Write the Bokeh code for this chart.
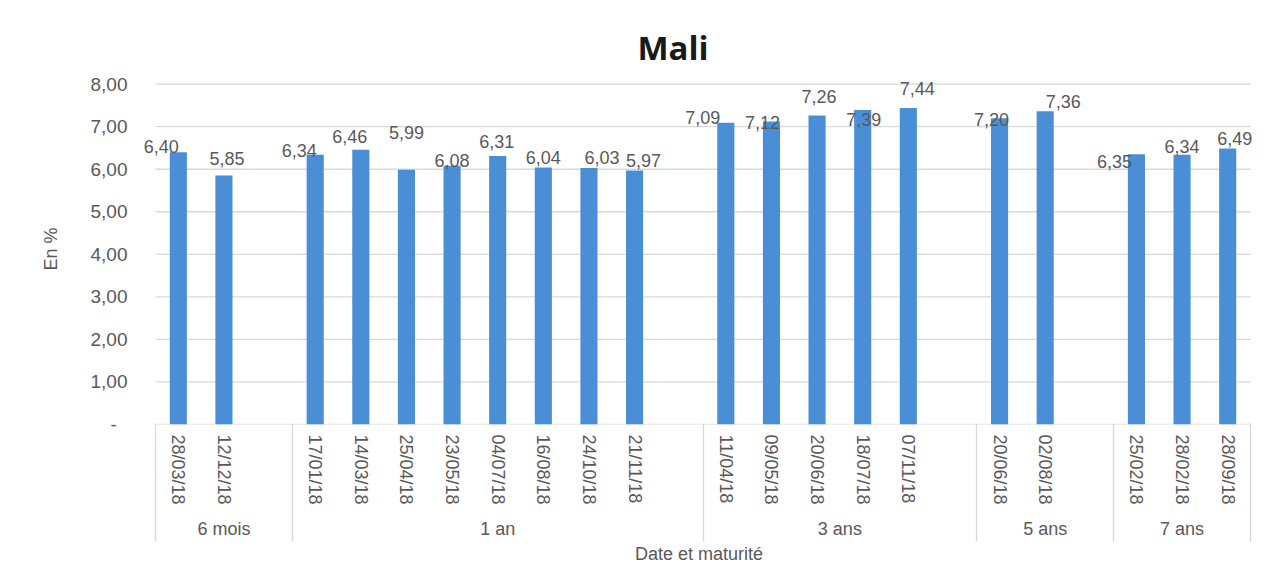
from bokeh.plotting import figure
from bokeh.models import FixedTicker, LinearAxis, Range1d, ColumnDataSource
from bokeh.core.properties import value
from bokeh.embed import file_html
from bokeh.resources import INLINE

# ---------------- data ----------------
maturities = ["6 mois", "1 an", "3 ans", "5 ans", "7 ans"]

dates_6m = ["28/03/18", "12/12/18"]
rates_6m = [6.40, 5.85]
dates_1a = ["17/01/18", "14/03/18", "25/04/18", "23/05/18",
            "04/07/18", "16/08/18", "24/10/18", "21/11/18"]
rates_1a = [6.34, 6.46, 5.99, 6.08, 6.31, 6.04, 6.03, 5.97]
dates_3a = ["11/04/18", "09/05/18", "20/06/18", "18/07/18", "07/11/18"]
rates_3a = [7.09, 7.12, 7.26, 7.39, 7.44]
dates_5a = ["20/06/18", "02/08/18"]
rates_5a = [7.20, 7.36]
dates_7a = ["25/02/18", "28/02/18", "28/09/18"]
rates_7a = [6.35, 6.34, 6.49]

y_ticks = [0, 1, 2, 3, 4, 5, 6, 7, 8]
y_tick_labels = ["-\u00a0\u00a0", "1,00", "2,00", "3,00", "4,00",
                 "5,00", "6,00", "7,00", "8,00"]

# label placement tweaks (screen pixels), styling only
label_dx = [-17, 3, -16, -11, 0, 0, -1, 0, 13, 9,
            -23, -9, 2, 1, 9, -8, 18, -22, 0, 7]
label_dy = [6, 17, 4, 13, 37, 5, 15, 10, 10, 10,
            5, -1, 19, -9, 19, -1, 10, -7, 8, 10]

TEXT = "#595959"
FONT = "Liberation Sans"
BAR = "#4a8fd6"
GRID = "#d9d9d9"

# ---------------- layout of slots ----------------
groups = [(dates_6m, rates_6m), (dates_1a, rates_1a), (dates_3a, rates_3a),
          (dates_5a, rates_5a), (dates_7a, rates_7a)]
bar_x, bar_v, bar_lbl = [], [], []
date_overrides = {}
dividers = [0]
group_centers = []
slot = 0
for gi, (dates, vals) in enumerate(groups):
    start = slot
    for d, v in zip(dates, vals):
        xc = 2 * slot + 1
        bar_x.append(xc)
        bar_v.append(v)
        bar_lbl.append(f"{v:.2f}".replace(".", ","))
        date_overrides[xc] = d
        slot += 1
    if gi < len(groups) - 1:
        slot += 1  # empty category after each group
    dividers.append(2 * slot)
    group_centers.append(start + slot)
n_units = 2 * slot

PLOT_W = 1095          # width of the category area in px
LEFT_PAD = 20          # extra room left of the first category for a label
RIGHT_PAD = 12         # extra room right of the last category for a label
x_start = -LEFT_PAD * n_units / PLOT_W
x_end = n_units + RIGHT_PAD * n_units / PLOT_W

src = ColumnDataSource(dict(x=bar_x, top=bar_v, lbl=bar_lbl,
                            dx=label_dx, dy=[-d for d in label_dy]))

p = figure(frame_width=PLOT_W + LEFT_PAD + RIGHT_PAD, frame_height=351,
           x_range=Range1d(x_start, x_end), y_range=Range1d(0, 8.25),
           x_axis_type=None, output_backend="svg", toolbar_location=None,
           min_border_left=155 - LEFT_PAD, min_border_right=31 - RIGHT_PAD,
           min_border_top=73, min_border_bottom=158,
           background_fill_color="white", border_fill_color="white")
p.outline_line_color = None
p.xgrid.visible = False
p.ygrid.visible = False

# gridlines and zero line restricted to the category area
grid_y = y_ticks[1:]
p.segment(x0=[0] * len(grid_y), x1=[n_units] * len(grid_y), y0=grid_y, y1=grid_y,
          line_color=GRID, line_width=1.3)
p.segment(x0=[0], x1=[n_units], y0=[0], y1=[0], line_color=GRID, line_width=1.3)

p.vbar(x="x", top="top", bottom=0, width=0.75, source=src,
       fill_color=BAR, line_color=None)

p.text(x="x", y="top", text="lbl", x_offset="dx", y_offset="dy", source=src,
       text_font=value(FONT), text_font_size="18px", text_color=TEXT,
       text_align="center", text_baseline="middle")

# title
p.title.text = "Mali"
p.title.text_font = "Open Sans"
p.title.text_font_style = "bold"
p.title.text_font_size = "33px"
p.title.text_color = "#1a1a1a"
p.title.align = "left"
p.title.offset = 482 + LEFT_PAD
p.title.standoff = 7

# y axis
ya = p.yaxis[0]
ya.ticker = FixedTicker(ticks=y_ticks)
ya.major_label_overrides = dict(zip(y_ticks, y_tick_labels))
ya.axis_line_color = None
ya.major_tick_line_color = None
ya.minor_tick_line_color = None
ya.major_tick_in = 0
ya.major_tick_out = 0
ya.major_label_standoff = 8
ya.major_label_text_font = FONT
ya.major_label_text_font_size = "19px"
ya.major_label_text_color = TEXT
ya.axis_label = "En %"
ya.axis_label_standoff = 27
ya.axis_label_text_font = FONT
ya.axis_label_text_font_size = "18px"
ya.axis_label_text_font_style = "normal"
ya.axis_label_text_color = TEXT

# x axis 1: dates
ax1 = LinearAxis(ticker=FixedTicker(ticks=bar_x, minor_ticks=[]),
                 major_label_overrides=date_overrides,
                 major_label_orientation="vertical",
                 major_tick_in=0, major_tick_out=0, major_tick_line_color=None,
                 minor_tick_in=0, minor_tick_out=0, minor_tick_line_color=None,
                 axis_line_color=None,
                 major_label_standoff=10,
                 major_label_text_font=FONT, major_label_text_font_size="18px",
                 major_label_text_color=TEXT)
p.add_layout(ax1, "below")

# x axis 2: maturities
ax2 = LinearAxis(ticker=FixedTicker(ticks=group_centers, minor_ticks=[]),
                 major_label_overrides=dict(zip(group_centers, maturities)),
                 major_tick_in=0, major_tick_out=0, major_tick_line_color=None,
                 minor_tick_in=0, minor_tick_out=0, minor_tick_line_color=None,
                 axis_line_color=None,
                 major_label_standoff=11,
                 major_label_text_font=FONT, major_label_text_font_size="18px",
                 major_label_text_color=TEXT)
p.add_layout(ax2, "below")

# x axis 3: group dividers (ticks pointing up) + axis title
ax3 = LinearAxis(ticker=FixedTicker(ticks=dividers, minor_ticks=[]),
                 major_label_overrides={d: "" for d in dividers},
                 major_label_text_font_size="1px",
                 major_tick_in=118, major_tick_out=0,
                 major_tick_line_color=GRID, major_tick_line_width=1.3,
                 minor_tick_in=0, minor_tick_out=0, minor_tick_line_color=None,
                 axis_line_color=None, major_label_standoff=0,
                 axis_label="Date et maturité", axis_label_standoff=2,
                 axis_label_text_font=FONT, axis_label_text_font_size="18px",
                 axis_label_text_font_style="normal", axis_label_text_color=TEXT)
p.add_layout(ax3, "below")

open("out.html", "w").write(file_html(p, INLINE))
